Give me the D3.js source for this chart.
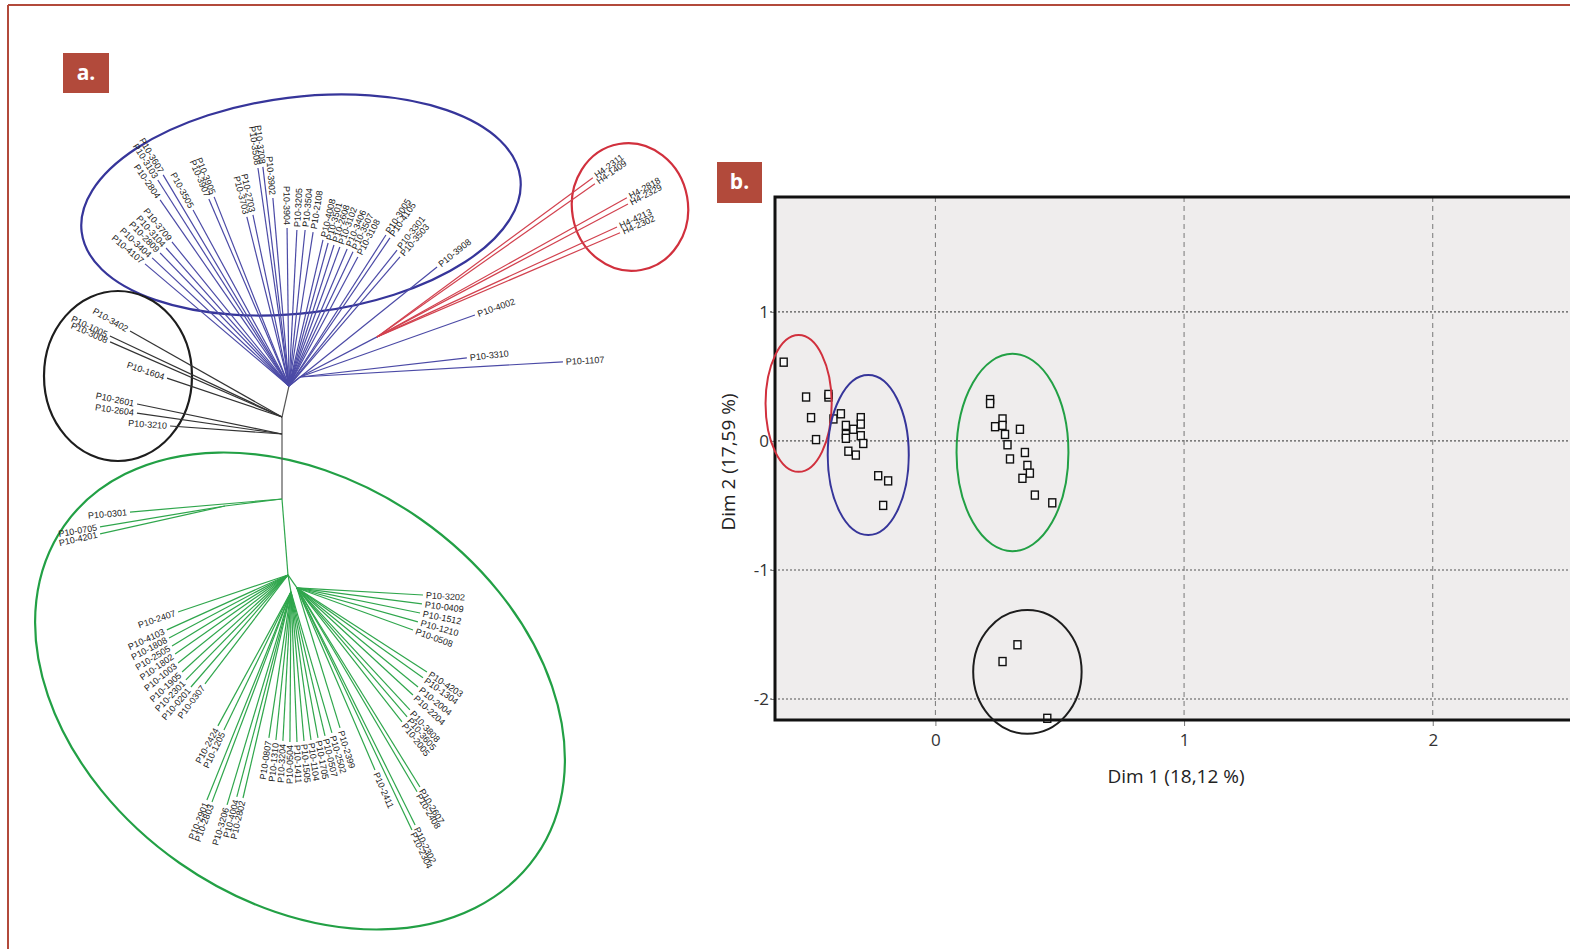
<!DOCTYPE html>
<html>
<head>
<meta charset="utf-8">
<script src="https://cdn.jsdelivr.net/npm/d3@7"></script>
<style>
  body { margin: 0; background: #fff; }
  svg { display: block; }
</style>
</head>
<body>
<div id="chart"></div>
<script>
/* ---------- a. unrooted tree ---------- */
// internal nodes: [id, parent, angle (deg), branch length, group]
const internalNodes = [
  ["blueHub", "root", -77.3, 15.9, "trunk"],
  ["blueSub", "blueHub", -39.3, 7.1, "blue"],
  ["redHub", "blueSub", -27.5, 43.4, "blue"],
  ["blackK", "root", 90, 8.5, "trunk"],
  ["green1", "blackK", 90, 32.5, "trunk"],
  ["green1s", "green1", 173, 28.7, "green"],
  ["greenHub", "green1", 85.5, 38.1, "green"],
  ["greenB", "greenHub", 80, 8.6, "green"],
  ["greenR", "greenHub", 55.3, 7.9, "green"]
];

// leaves: [label, parent, angle (deg), branch length]
const blackLeaves = [
  ["P10-3402", "root", -150.5, 87.3],
  ["P10-1005", "root", -154.8, 95.1],
  ["P10-3008", "root", -156.4, 93.8],
  ["P10-1604", "root", -161.3, 60.7],
  ["P10-2601", "blackK", -168.3, 74.0],
  ["P10-2604", "blackK", -171.8, 73.3],
  ["P10-3210", "blackK", -175.9, 56.1]
];

const blueLeaves = [
  ["P10-4107", "blueHub", -139.7, 94.4],
  ["P10-3404", "blueHub", -136.9, 93.7],
  ["P10-2809", "blueHub", -134.1, 92.6],
  ["P10-3104", "blueHub", -131.7, 92.4],
  ["P10-3709", "blueHub", -129.1, 92.8],
  ["P10-2804", "blueHub", -124.7, 113.2],
  ["P10-3103", "blueHub", -122.5, 122.1],
  ["P10-3607", "blueHub", -120.8, 122.9],
  ["P10-3505", "blueHub", -118.6, 100.2],
  ["P10-3907", "blueHub", -113.2, 101.7],
  ["P10-3905", "blueHub", -111.6, 101.7],
  ["P10-3703", "blueHub", -104.0, 87.1],
  ["P10-2703", "blueHub", -101.9, 87.4],
  ["P10-3508", "blueHub", -98.1, 110.1],
  ["P10-3708", "blueHub", -96.8, 110.3],
  ["P10-3902", "blueHub", -94.9, 94.3],
  ["P10-3904", "blueHub", -90.7, 79.0],
  ["P10-3205", "blueHub", -87.1, 78.1],
  ["P10-3504", "blueHub", -84.1, 78.4],
  ["P10-2108", "blueHub", -81.1, 77.9],
  ["P10-4008", "blueHub", -76.9, 75.0],
  ["P10-3501", "blueHub", -74.7, 74.1],
  ["P10-2608", "blueHub", -72.3, 74.0],
  ["P10-3102", "blueHub", -69.9, 74.0],
  ["P10-3406", "blueHub", -67.0, 74.4],
  ["P10-3507", "blueHub", -64.5, 74.3],
  ["P10-3108", "blueHub", -61.9, 73.1],
  ["P10-3005", "blueHub", -57.3, 89.7],
  ["P10-4105", "blueHub", -55.7, 89.6],
  ["P10-3301", "blueHub", -51.5, 86.8],
  ["P10-3503", "blueHub", -49.3, 85.1],
  ["P10-3908", "blueHub", -38.8, 95.0],
  ["P10-4002", "blueSub", -19.5, 92.8],
  ["P10-3310", "blueSub", -6.5, 84.0],
  ["P10-1107", "blueSub", -3.3, 131.7]
];

const redLeaves = [
  ["H4-2311", "redHub", -36.4, 134.1],
  ["H4-1409", "redHub", -35.1, 133.2],
  ["H4-2818", "redHub", -29.1, 143.0],
  ["H4-2329", "redHub", -27.9, 142.0],
  ["H4-4213", "redHub", -24.6, 132.0],
  ["H4-2302", "redHub", -23.2, 132.2]
];

const greenLeaves = [
  ["P10-0301", "green1", 175.1, 76.3],
  ["P10-0705", "green1s", 170.5, 63.4],
  ["P10-4201", "green1s", 167.4, 64.0],
  ["P10-2407", "greenHub", 161.4, 58.0],
  ["P10-4103", "greenHub", 155.6, 66.5],
  ["P10-1808", "greenHub", 152.1, 67.3],
  ["P10-2505", "greenHub", 148.5, 68.0],
  ["P10-1802", "greenHub", 145.0, 68.9],
  ["P10-1003", "greenHub", 141.3, 70.4],
  ["P10-1905", "greenHub", 137.5, 71.8],
  ["P10-2301", "greenHub", 134.2, 73.2],
  ["P10-0201", "greenHub", 130.9, 74.1],
  ["P10-0307", "greenHub", 127.3, 68.5],
  ["P10-2424", "greenB", 118.6, 76.3],
  ["P10-1205", "greenB", 115.9, 76.7],
  ["P10-2901", "greenB", 112.0, 112.2],
  ["P10-2803", "greenB", 110.6, 112.2],
  ["P10-3206", "greenB", 106.7, 111.2],
  ["P10-4004", "greenB", 104.8, 106.0],
  ["P10-2802", "greenB", 103.1, 105.8],
  ["P10-0807", "greenB", 98.6, 73.8],
  ["P10-1310", "greenB", 95.8, 74.4],
  ["P10-3204", "greenB", 93.1, 74.6],
  ["P10-0504", "greenB", 90.4, 75.0],
  ["P10-1411", "greenB", 87.7, 75.1],
  ["P10-1505", "greenB", 85.0, 74.8],
  ["P10-1104", "greenB", 82.3, 74.7],
  ["P10-1705", "greenB", 79.5, 74.2],
  ["P10-0507", "greenB", 76.7, 74.0],
  ["P10-2502", "greenB", 73.8, 73.4],
  ["P10-2399", "greenR", 72.9, 73.2],
  ["P10-2411", "greenR", 66.8, 99.0],
  ["P10-2607", "greenR", 58.3, 117.0],
  ["P10-2408", "greenR", 59.5, 118.3],
  ["P10-2302", "greenR", 63.5, 132.4],
  ["P10-2304", "greenR", 64.6, 134.0],
  ["P10-2005", "greenR", 51.9, 85.1],
  ["P10-3605", "greenR", 49.5, 84.8],
  ["P10-3808", "greenR", 47.2, 83.1],
  ["P10-2204", "greenR", 42.7, 78.9],
  ["P10-2004", "greenR", 39.3, 78.2],
  ["P10-1304", "greenR", 35.5, 77.4],
  ["P10-4203", "greenR", 32.9, 77.4],
  ["P10-0508", "greenR", 19.9, 61.7],
  ["P10-1210", "greenR", 15.7, 62.8],
  ["P10-1512", "greenR", 11.5, 62.8],
  ["P10-0409", "greenR", 7.3, 63.0],
  ["P10-3202", "greenR", 3.2, 63.1]
];

// group rings round the clusters: [group, cx, cy, rx, ry, rotation] in tree units
const treeRings = [
  ["blue", 9.5, -106, 110.5, 54, -7],
  ["red", 174, -105, 29, 32, -10],
  ["black", -82, -20.5, 37, 42.5, 0],
  ["green", 9, 137, 144, 105, 35]
];

/* ---------- b. factorial map ---------- */
const redPts = [[-0.61, 0.61], [-0.52, 0.34], [-0.43, 0.34], [-0.43, 0.36], [-0.50, 0.18], [-0.48, 0.01]];
const bluePts = [[-0.41, 0.17], [-0.38, 0.21], [-0.36, 0.12], [-0.30, 0.18], [-0.30, 0.13], [-0.33, 0.09],
  [-0.36, 0.05], [-0.36, 0.02], [-0.30, 0.04], [-0.29, -0.02], [-0.35, -0.08], [-0.32, -0.11],
  [-0.23, -0.27], [-0.19, -0.31], [-0.21, -0.50]];
const greenPts = [[0.22, 0.32], [0.22, 0.29], [0.27, 0.17], [0.24, 0.11], [0.27, 0.12], [0.28, 0.05],
  [0.34, 0.09], [0.29, -0.03], [0.36, -0.09], [0.30, -0.14], [0.37, -0.19], [0.38, -0.25],
  [0.35, -0.29], [0.40, -0.42], [0.47, -0.48]];
const blackPts = [[0.33, -1.58], [0.27, -1.71], [0.45, -2.15]];

// [group, cx, cy, rx, ry] in data units
const scatterRings = [
  ["red", -0.55, 0.29, 0.133, 0.53],
  ["blue", -0.27, -0.11, 0.163, 0.62],
  ["green", 0.31, -0.09, 0.225, 0.765],
  ["black", 0.37, -1.79, 0.218, 0.48]
];

const xTicks = [0, 1, 2];
const yTicks = [1, 0, -1, -2];

/* ---------- drawing ---------- */
const width = 1570, height = 949;
const accent = "#b24a3b";

const lineColor = { trunk: "#555", blue: "#4b4aa6", red: "#d2424f", black: "#333", green: "#2fa64c" };
const ringColor = { blue: "#36359a", red: "#d1303d", black: "#1d1d1d", green: "#22a045" };

const svg = d3.select("#chart").append("svg")
  .attr("width", width)
  .attr("height", height);

svg.append("rect").attr("width", width).attr("height", height).attr("fill", "#fff");

// page frame
svg.append("line").attr("x1", 8).attr("x2", width).attr("y1", 5).attr("y2", 5)
  .attr("stroke", accent).attr("stroke-width", 2);
svg.append("line").attr("x1", 8).attr("x2", 8).attr("y1", 5).attr("y2", height)
  .attr("stroke", accent).attr("stroke-width", 2);

// panel tags
function tag(x, y, w, h, txt) {
  svg.append("rect").attr("x", x).attr("y", y).attr("width", w).attr("height", h).attr("fill", accent);
  svg.append("text").attr("x", x + w / 2).attr("y", y + h / 2 + 1)
    .attr("text-anchor", "middle").attr("dominant-baseline", "middle")
    .style("font-family", "'Open Sans', sans-serif").style("font-weight", 700)
    .style("font-size", "21px").attr("fill", "#fff").text(txt);
}
tag(63, 53, 46, 40, "a.");
tag(717, 162, 45, 41, "b.");

/* --- tree --- */
const tx = d3.scaleLinear().domain([0, 100]).range([282, 482]);
const ty = d3.scaleLinear().domain([0, 100]).range([417, 617]);
const rad = d => d * Math.PI / 180;

const pos = { root: { x: 0, y: 0 } };
const edges = [];
internalNodes.forEach(([id, parent, ang, len, grp]) => {
  const p = pos[parent];
  pos[id] = { x: p.x + len * Math.cos(rad(ang)), y: p.y + len * Math.sin(rad(ang)) };
  edges.push({ from: p, to: pos[id], grp });
});

const leaves = [];
[[blackLeaves, "black"], [blueLeaves, "blue"], [redLeaves, "red"], [greenLeaves, "green"]]
  .forEach(([arr, grp]) => arr.forEach(([label, parent, ang, len]) => {
    const p = pos[parent];
    const end = { x: p.x + len * Math.cos(rad(ang)), y: p.y + len * Math.sin(rad(ang)) };
    edges.push({ from: p, to: end, grp });
    leaves.push({ label, ang, end, grp });
  }));

const tree = svg.append("g");

tree.selectAll(".ring").data(treeRings).join("ellipse")
  .attr("transform", d => `translate(${tx(d[1])},${ty(d[2])}) rotate(${d[5]})`)
  .attr("rx", d => tx(d[3]) - tx(0))
  .attr("ry", d => ty(d[4]) - ty(0))
  .attr("fill", "none")
  .attr("stroke", d => ringColor[d[0]])
  .attr("stroke-width", 2.2);

tree.selectAll(".edge").data(edges).join("line")
  .attr("x1", d => tx(d.from.x)).attr("y1", d => ty(d.from.y))
  .attr("x2", d => tx(d.to.x)).attr("y2", d => ty(d.to.y))
  .attr("stroke", d => lineColor[d.grp])
  .attr("stroke-width", 1.2);

tree.selectAll(".leaf").data(leaves).join("text")
  .attr("transform", d => {
    const gap = 1.5, a = rad(d.ang);
    const x = tx(d.end.x + gap * Math.cos(a)), y = ty(d.end.y + gap * Math.sin(a));
    const left = Math.cos(a) < 0;
    return `translate(${x},${y}) rotate(${left ? d.ang + 180 : d.ang})`;
  })
  .attr("text-anchor", d => Math.cos(rad(d.ang)) < 0 ? "end" : "start")
  .attr("dy", "0.35em")
  .style("font-family", "'Liberation Sans', Arial, sans-serif")
  .style("font-size", "9px")
  .attr("fill", "#222")
  .text(d => d.label);

/* --- scatter --- */
const plot = { left: 775, top: 197, right: 1572, bottom: 720 };
const x = d3.scaleLinear().domain([-0.645, 2.56]).range([plot.left, plot.right]);
const y = d3.scaleLinear().domain([-2.163, 1.89]).range([plot.bottom, plot.top]);

svg.append("rect")
  .attr("x", plot.left).attr("y", plot.top)
  .attr("width", plot.right - plot.left).attr("height", plot.bottom - plot.top)
  .attr("fill", "#efeded");

// grid
svg.append("g").selectAll("line").data(yTicks).join("line")
  .attr("x1", plot.left - 5).attr("x2", plot.right)
  .attr("y1", d => y(d)).attr("y2", d => y(d))
  .attr("stroke", "#555").attr("stroke-width", 1.1).attr("stroke-dasharray", "2,2");
svg.append("g").selectAll("line").data(xTicks).join("line")
  .attr("x1", d => x(d)).attr("x2", d => x(d))
  .attr("y1", plot.top).attr("y2", plot.bottom)
  .attr("stroke", "#777").attr("stroke-width", 1).attr("stroke-dasharray", "5,4");

// axes
const fmt = d => d < 0 ? "-" + Math.abs(d) : String(d);
const yAxis = svg.append("g").attr("transform", `translate(${plot.left},0)`)
  .call(d3.axisLeft(y).tickValues(yTicks).tickFormat(fmt).tickSize(4).tickPadding(2));
const xAxis = svg.append("g").attr("transform", `translate(0,${plot.bottom})`)
  .call(d3.axisBottom(x).tickValues(xTicks).tickFormat(fmt).tickSize(6).tickPadding(8));
[xAxis, yAxis].forEach(a => {
  a.select(".domain").remove();
  a.selectAll("line").attr("stroke", "#777");
  a.selectAll("text").style("font-family", "'Open Sans', sans-serif")
    .style("font-size", "17px").attr("fill", "#333");
});

// points
const groups = [[redPts, "red"], [bluePts, "blue"], [greenPts, "green"], [blackPts, "black"]];
const pts = groups.flatMap(([arr, grp]) => arr.map(p => ({ x: p[0], y: p[1], grp })));
svg.append("g").selectAll("rect").data(pts).join("rect")
  .attr("x", d => x(d.x) - 3.5).attr("y", d => y(d.y) - 4)
  .attr("width", 7).attr("height", 8)
  .attr("fill", "#fafafa").attr("stroke", "#111").attr("stroke-width", 1.4);

// frame of the plot
svg.append("path")
  .attr("d", `M${plot.right},${plot.top}H${plot.left}V${plot.bottom}H${plot.right}`)
  .attr("fill", "none").attr("stroke", "#111").attr("stroke-width", 3);

// cluster rings
svg.append("g").selectAll("ellipse").data(scatterRings).join("ellipse")
  .attr("cx", d => x(d[1])).attr("cy", d => y(d[2]))
  .attr("rx", d => x(d[1] + d[3]) - x(d[1]))
  .attr("ry", d => y(d[2]) - y(d[2] + d[4]))
  .attr("fill", "none")
  .attr("stroke", d => ringColor[d[0]])
  .attr("stroke-width", 2);

// axis titles
svg.append("text")
  .attr("x", 1176).attr("y", 783)
  .attr("text-anchor", "middle")
  .style("font-family", "'Open Sans', sans-serif").style("font-size", "19px")
  .attr("fill", "#222")
  .text("Dim 1 (18,12 %)");
svg.append("text")
  .attr("transform", "translate(735,462) rotate(-90)")
  .attr("text-anchor", "middle")
  .style("font-family", "'Open Sans', sans-serif").style("font-size", "19px")
  .attr("fill", "#222")
  .text("Dim 2 (17,59 %)");
</script>
</body>
</html>
